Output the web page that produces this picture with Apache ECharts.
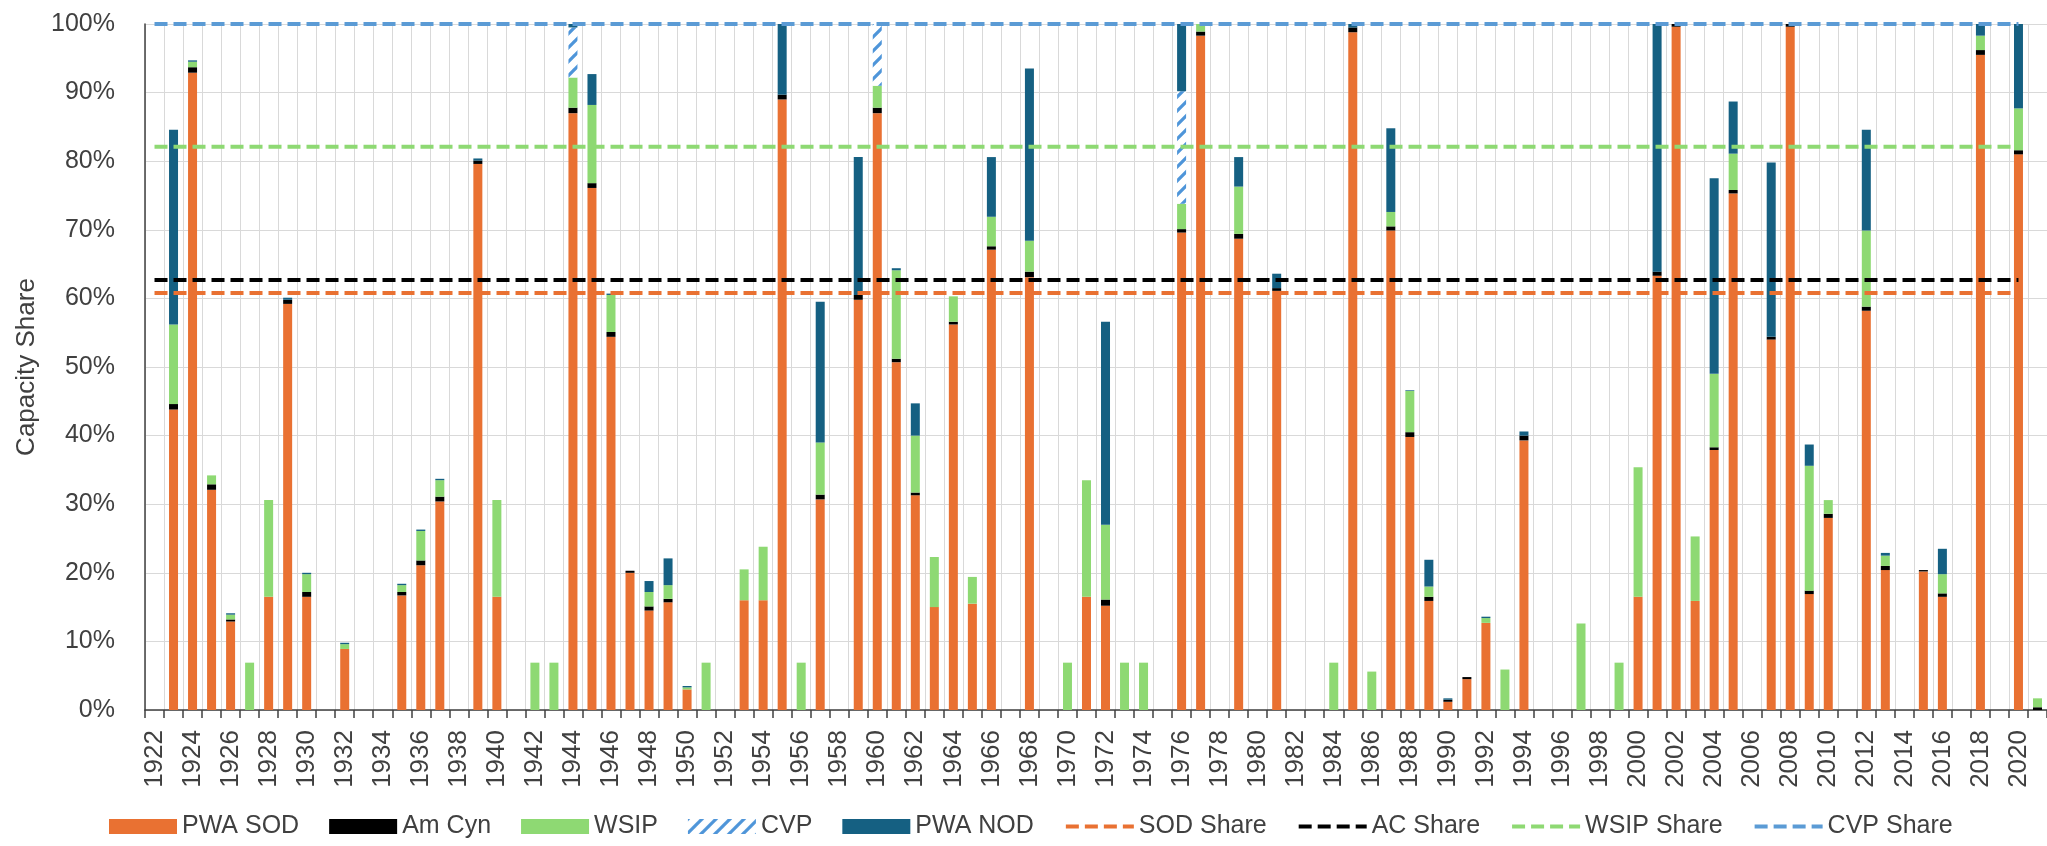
<!DOCTYPE html>
<html>
<head>
<meta charset="utf-8">
<script src="https://cdn.jsdelivr.net/npm/echarts@6/dist/echarts.min.js"></script>
<style>
  html, body { margin: 0; padding: 0; background: #ffffff; }
  #chart { width: 2047px; height: 846px; }
</style>
</head>
<body>
<div id="chart"></div>
<script>
// ---- Data (capacity share, %) ----
const years = [];
for (let y = 1922; y <= 2021; y++) years.push(String(y));

const pwaSod = [
  0, 43.8, 92.9, 32.1, 12.9, 0, 16.5, 59.2, 16.5, 0,
  8.9, 0, 0, 16.7, 21.1, 30.4, 0, 79.6, 16.5, 0,
  0, 0, 87.0, 76.1, 54.4, 20.0, 14.5, 15.7, 3.0, 0,
  0, 16.0, 16.0, 89.0, 0, 30.7, 0, 59.8, 87.0, 50.7,
  31.3, 15.0, 56.2, 15.5, 67.1, 0, 63.1, 0, 0, 16.5,
  15.2, 0, 0, 0, 69.6, 98.3, 0, 68.7, 0, 61.1,
  0, 0, 0, 98.8, 0, 69.9, 39.8, 15.9, 1.2, 4.5,
  12.7, 0, 39.3, 0, 0, 0, 0, 0, 16.5, 63.3,
  99.6, 15.9, 37.9, 75.3, 0, 54.0, 99.6, 16.9, 28.0, 0,
  58.2, 20.4, 0, 20.2, 16.5, 0, 95.5, 0, 81.0, 0
];
const amCyn = [
  0, 0.8, 0.8, 0.8, 0.3, 0, 0, 0.6, 0.7, 0,
  0, 0, 0, 0.5, 0.7, 0.7, 0, 0.5, 0, 0,
  0, 0, 0.8, 0.7, 0.7, 0.3, 0.6, 0.5, 0, 0,
  0, 0, 0, 0.7, 0, 0.7, 0, 0.7, 0.8, 0.5,
  0.4, 0, 0.4, 0, 0.5, 0, 0.8, 0, 0, 0,
  0.9, 0, 0, 0, 0.5, 0.6, 0, 0.7, 0, 0.4,
  0, 0, 0, 0.7, 0, 0.6, 0.7, 0.6, 0.3, 0.3,
  0, 0, 0.7, 0, 0, 0, 0, 0, 0, 0.6,
  0.4, 0, 0.4, 0.5, 0, 0.4, 0.4, 0.5, 0.6, 0,
  0.6, 0.6, 0, 0.2, 0.5, 0, 0.7, 0, 0.6, 0.4
];
const wsip = [
  0, 11.6, 0.8, 1.3, 0.7, 6.9, 14.1, 0, 2.6, 0,
  0.7, 0, 0, 1.0, 4.3, 2.4, 0, 0, 14.1, 0,
  6.9, 6.9, 4.4, 11.4, 5.4, 0, 2.1, 2.0, 0.3, 6.9,
  0, 4.5, 7.8, 0, 6.9, 7.6, 0, 0, 3.2, 12.9,
  8.3, 7.3, 3.7, 3.9, 4.3, 0, 4.5, 0, 6.9, 17.0,
  10.9, 6.9, 6.9, 0, 3.7, 1.1, 0, 6.9, 0, 0,
  0, 0, 6.9, 0, 5.6, 2.1, 6.0, 1.5, 0, 0,
  0.7, 5.9, 0, 0, 0, 12.6, 0, 6.9, 18.9, 0,
  0, 9.4, 10.7, 5.3, 0, 0, 0, 18.2, 2.0, 0,
  11.1, 1.5, 0, 0, 2.8, 0, 2.1, 0, 6.1, 1.3
];
const cvp = [
  0, 0, 0, 0, 0, 0, 0, 0, 0, 0,
  0, 0, 0, 0, 0, 0, 0, 0, 0, 0,
  0, 0, 7.3, 0, 0, 0, 0, 0, 0, 0,
  0, 0, 0, 0, 0, 0, 0, 0, 9.0, 0,
  0, 0, 0, 0, 0, 0, 0, 0, 0, 0,
  0, 0, 0, 0, 16.4, 0, 0, 0, 0, 0,
  0, 0, 0, 0, 0, 0, 0, 0, 0, 0,
  0, 0, 0, 0, 0, 0, 0, 0, 0, 0,
  0, 0, 0, 0, 0, 0, 0, 0, 0, 0,
  0, 0, 0, 0, 0, 0, 0, 0, 0, 0
];
const pwaNod = [
  0, 28.4, 0.2, 0, 0.2, 0, 0, 0.3, 0.2, 0,
  0.2, 0, 0, 0.2, 0.2, 0.2, 0, 0.3, 0, 0,
  0, 0, 0.5, 4.5, 0.2, 0, 1.6, 3.9, 0.2, 0,
  0, 0, 0, 10.3, 0, 20.5, 0, 20.1, 0, 0.3,
  4.7, 0, 0, 0, 8.7, 0, 25.1, 0, 0, 0,
  29.6, 0, 0, 0, 9.8, 0, 0, 4.3, 0, 2.1,
  0, 0, 0, 0.5, 0, 12.2, 0.1, 3.9, 0.2, 0,
  0.2, 0, 0.6, 0, 0, 0, 0, 0, 0, 36.1,
  0, 0, 28.5, 7.6, 0, 25.4, 0, 3.1, 0, 0,
  14.7, 0.4, 0, 0, 3.7, 0, 1.7, 0, 12.3, 0
];

// Long-term average shares (%)
const sodShare = 60.8;
const acShare = 62.7;
const wsipShare = 82.1;
const cvpShare = 100;
const shareStart = '1922';
const shareEnd = '2020';

const yTicks = { min: 0, max: 100, step: 10 };

// ---- Styles ----
const C_ORANGE = '#E97132';
const C_BLACK = '#000000';
const C_GREEN = '#8ED973';
const C_TEAL = '#156082';
const C_HATCH = '#4E95D9';
const C_CVPLINE = '#5B9BD5';
const TXT = '#404040';
const FONT = "'Liberation Sans', Arial, sans-serif";
const DASH = [13, 6];

// hatch pattern for CVP
const pc = document.createElement('canvas');
pc.width = 14; pc.height = 14;
const px = pc.getContext('2d');
px.fillStyle = '#ffffff';
px.fillRect(0, 0, 14, 14);
px.strokeStyle = C_HATCH;
px.lineWidth = 3.2;
px.lineCap = 'square';
for (const o of [-14, 0, 14]) {
  px.beginPath();
  px.moveTo(o, 14);
  px.lineTo(o + 14, 0);
  px.stroke();
}
const hatch = { image: pc, repeat: 'repeat' };

function barSeries(name, data, color) {
  return {
    name: name, type: 'bar', stack: 'cap', data: data,
    barWidth: 9,
    itemStyle: { color: color },
    emphasis: { disabled: true },
    animation: false
  };
}
function shareSeries(name, value, color) {
  return {
    name: name, type: 'line',
    data: [[shareStart, value], [shareEnd, value]],
    symbol: 'none',
    lineStyle: { color: color, width: 4, type: DASH },
    itemStyle: { color: color },
    emphasis: { disabled: true },
    z: 5,
    animation: false
  };
}
function lineLegend(name, color) {
  return {
    name: name,
    itemStyle: { opacity: 0 },
    lineStyle: { width: 4, type: DASH, color: color }
  };
}

const chart = echarts.init(document.getElementById('chart'), null, { renderer: 'canvas' });
chart.setOption({
  backgroundColor: '#ffffff',
  animation: false,
  textStyle: { fontFamily: FONT },
  grid: { left: 145, top: 24, width: 1907, height: 686, containLabel: false },
  legend: {
    left: 104, top: 809,
    itemWidth: 68, itemHeight: 15, itemGap: 30,
    textStyle: { fontSize: 25, color: TXT, fontFamily: FONT },
    data: [
      { name: 'PWA SOD', icon: 'rect' },
      { name: 'Am Cyn', icon: 'rect' },
      { name: 'WSIP', icon: 'rect' },
      { name: 'CVP', icon: 'rect' },
      { name: 'PWA NOD', icon: 'rect' },
      lineLegend('SOD Share', C_ORANGE),
      lineLegend('AC Share', C_BLACK),
      lineLegend('WSIP Share', C_GREEN),
      lineLegend('CVP Share', C_CVPLINE)
    ]
  },
  xAxis: {
    type: 'category',
    data: years,
    boundaryGap: true,
    axisLine: { show: true, lineStyle: { color: TXT, width: 1.5 } },
    axisTick: { show: true, interval: 0, length: 8, lineStyle: { color: TXT, width: 1.5 } },
    axisLabel: { interval: 1, rotate: 90, fontSize: 26, color: TXT, margin: 20, fontFamily: FONT },
    splitLine: { show: true, interval: 0, lineStyle: { color: '#D9D9D9', width: 1 } }
  },
  yAxis: {
    type: 'value',
    min: yTicks.min, max: yTicks.max, interval: yTicks.step,
    name: 'Capacity Share',
    nameLocation: 'middle',
    nameGap: 104,
    nameTextStyle: { fontSize: 26, color: TXT, fontFamily: FONT },
    axisLine: { show: true, lineStyle: { color: TXT, width: 1.5 } },
    axisTick: { show: false },
    axisLabel: { formatter: '{value}%', fontSize: 25, color: TXT, margin: 30, fontFamily: FONT },
    splitLine: { show: true, lineStyle: { color: '#D9D9D9', width: 1 } }
  },
  series: [
    barSeries('PWA SOD', pwaSod, C_ORANGE),
    barSeries('Am Cyn', amCyn, C_BLACK),
    barSeries('WSIP', wsip, C_GREEN),
    barSeries('CVP', cvp, hatch),
    barSeries('PWA NOD', pwaNod, C_TEAL),
    shareSeries('SOD Share', sodShare, C_ORANGE),
    shareSeries('AC Share', acShare, C_BLACK),
    shareSeries('WSIP Share', wsipShare, C_GREEN),
    shareSeries('CVP Share', cvpShare, C_CVPLINE)
  ]
});
</script>
</body>
</html>
